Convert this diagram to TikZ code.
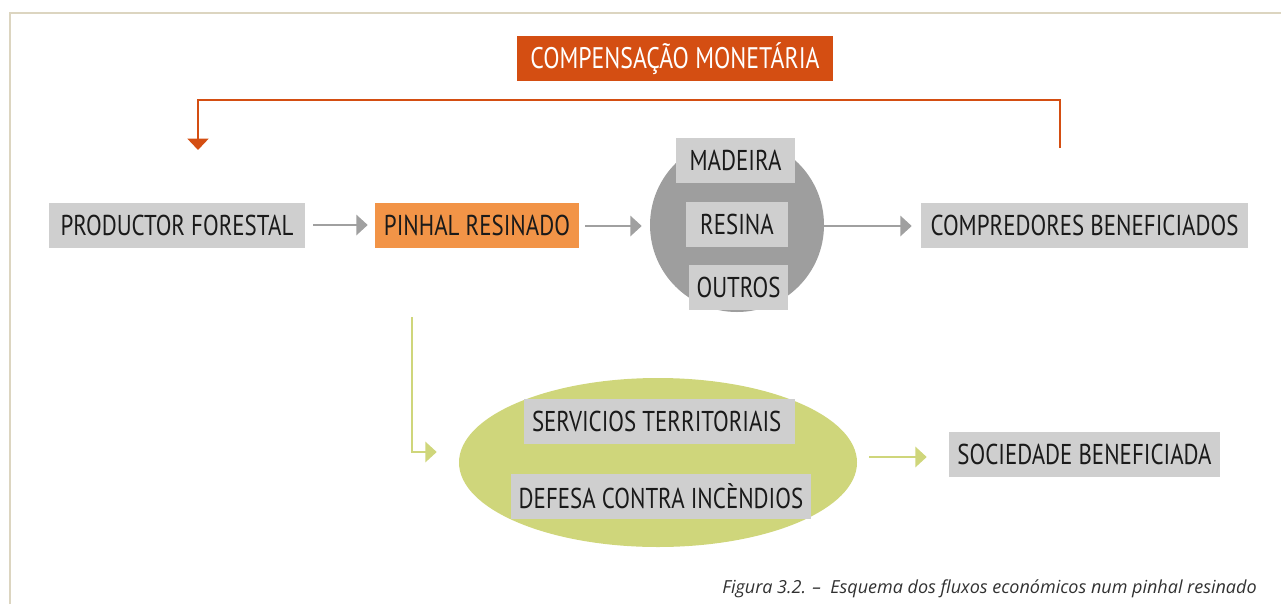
\documentclass[tikz,border=0pt]{standalone}
\usepackage{fontspec}
\setmainfont{PT Sans}[FakeStretch=0.8]
\newfontfamily\capfont{Open Sans}
\usetikzlibrary{arrows.meta,shapes.geometric}
\definecolor{darkorange}{HTML}{D44E12}
\definecolor{lightorange}{HTML}{F29447}
\definecolor{boxgray}{HTML}{CFCFCF}
\definecolor{circlegray}{HTML}{9E9E9E}
\definecolor{arrowgray}{HTML}{A0A0A0}
\definecolor{leaf}{HTML}{CFD67B}
\definecolor{frame}{HTML}{DCD5C0}
\definecolor{ink}{HTML}{1A1A1A}
\tikzset{
  box/.style={fill=boxgray, text=ink, inner sep=0pt, minimum height=45*0.75pt, font=\fontsize{21.5}{24}\selectfont},
  grayarrow/.style={draw=arrowgray, line width=2pt, -{Triangle[length=8.5pt,width=15pt]}},
  greenarrow/.style={draw=leaf, line width=2.2pt, -{Triangle[length=8.5pt,width=15pt]}},
  orangeline/.style={draw=darkorange, line width=2.2pt, -{Triangle[length=8.5pt,width=15.5pt]}},
}
\begin{document}
\begin{tikzpicture}[x=0.75pt,y=-0.75pt]
\useasboundingbox (0,0) rectangle (1281,604);
% frame
\draw[frame, line width=1.5pt] (10,604) -- (10,13) -- (1281,13);
% top label
\node[box, fill=darkorange, text=white, minimum width=316*0.75pt, font=\fontsize{22.3}{24}\selectfont] (comp) at (675,58.5) {COMPENSAÇÃO MONETÁRIA};
% main row
\node[box, minimum width=256*0.75pt] (prod) at (177,225.5) {PRODUCTOR FORESTAL};
\node[box, fill=lightorange, minimum width=204*0.75pt] (pinhal) at (477,225) {PINHAL RESINADO};
\node[circle, fill=circlegray, minimum size=174*0.75pt, inner sep=0pt] (prodcircle) at (737,225) {};
\node[box, minimum width=119*0.75pt] (madeira) at (735.5,160.5) {MADEIRA};
\node[box, minimum width=102*0.75pt] (resina) at (737,224.5) {RESINA};
\node[box, minimum width=99*0.75pt] (outros) at (738.5,287.5) {OUTROS};
\node[box, minimum width=327*0.75pt] (compr) at (1084.5,225) {COMPREDORES BENEFICIADOS};
% lower row
\node[ellipse, fill=leaf, minimum width=398*0.75pt, minimum height=169*0.75pt, inner sep=0pt] (serv) at (658,462.5) {};
\node[box, minimum width=271*0.75pt] (servt) at (659.5,421.5) {\makebox[191.25pt][l]{SERVICIOS TERRITORIAIS}};
\node[box, minimum width=300*0.75pt] (defesa) at (661,496) {DEFESA CONTRA INCÈNDIOS};
\node[box, minimum width=271*0.75pt] (soc) at (1084.5,454) {SOCIEDADE BENEFICIADA};
% arrows
\draw[grayarrow, shorten <=8*0.75pt, shorten >=7*0.75pt] (prod.east |- 0,225) -- (pinhal.west |- 0,225);
\draw[grayarrow, shorten <=6*0.75pt, shorten >=8*0.75pt] (pinhal.east |- 0,226) -- (prodcircle.west |- 0,226);
\draw[grayarrow, shorten >=9*0.75pt] (prodcircle.east |- 0,226) -- (compr.west |- 0,226);
% compensation loop
\coordinate (loopstart) at (1060,148);
\coordinate (loopend) at (198,150);
\draw[orangeline] (loopstart) -- (1060,100) -- (198,100) -- (loopend);
% green branch
\coordinate (branchstart) at (412,317);
\draw[greenarrow, shorten >=22*0.75pt] (branchstart) |- (serv.west |- 0,452);
\draw[greenarrow, shorten <=12*0.75pt, shorten >=22*0.75pt] (serv.east |- 0,457) -- (soc.west |- 0,457);
% caption
\node[anchor=base east, font=\capfont\itshape\fontsize{13.5}{15}\selectfont, text=ink!90, inner sep=0pt] (caption) at (1257,593) {Figura 3.2. –\ \ Esquema dos fluxos económicos num pinhal resinado};
\end{tikzpicture}
\end{document}
